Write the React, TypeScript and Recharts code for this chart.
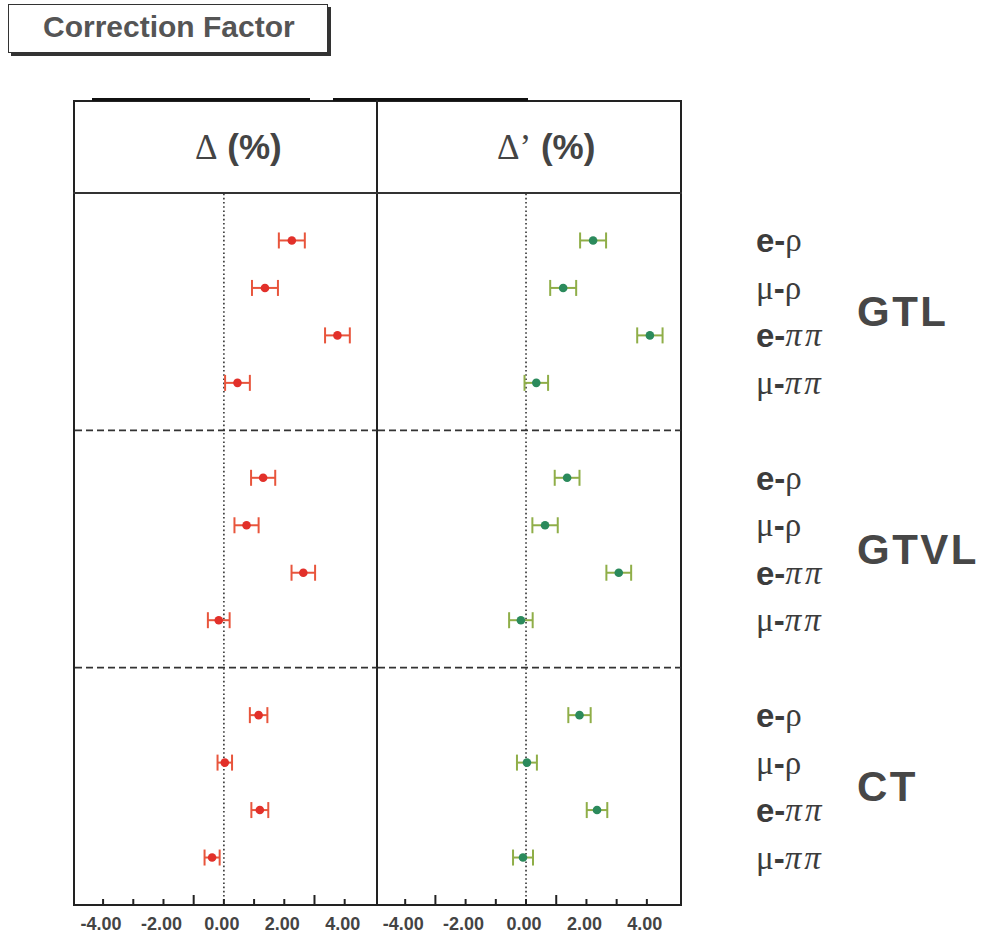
import React from 'react'
import { ScatterChart, Scatter, ErrorBar, XAxis, YAxis, ReferenceLine } from 'recharts'

const groups = ['GTL', 'GTVL', 'CT']
const channelLeptons = ['e', 'μ', 'e', 'μ']
const channelMesons = ['ρ', 'ρ', 'ππ', 'ππ']

// Δ (%) per row, groups in order GTL, GTVL, CT
const deltaValues = [2.25, 1.36, 3.76, 0.45, 1.3, 0.75, 2.63, -0.17, 1.15, 0.03, 1.19, -0.39]
const deltaErrors = [0.43, 0.43, 0.41, 0.41, 0.4, 0.4, 0.39, 0.36, 0.29, 0.24, 0.28, 0.25]
// Δ' (%)
const deltaPrimeValues = [2.22, 1.23, 4.1, 0.34, 1.36, 0.63, 3.07, -0.17, 1.77, 0.03, 2.35, -0.1]
const deltaPrimeErrors = [0.43, 0.43, 0.42, 0.39, 0.41, 0.42, 0.41, 0.39, 0.37, 0.33, 0.34, 0.33]

const xTicks = [-4, -3, -2, -1, 0, 1, 2, 3, 4]
const groupDividers = [5, 10]

const SANS = "'Liberation Sans', Arial, Helvetica, sans-serif"
const SERIF = "'Liberation Serif', 'Times New Roman', serif"

const PLOT_TOP = 193
const PLOT_H = 712
const AXIS_H = 40
const SLOTS = 15

const rows = groups.flatMap((group, gi) =>
  channelLeptons.map((lepton, ci) => ({
    group,
    lepton,
    meson: channelMesons[ci],
    slot: gi * 5 + ci + 1,
  }))
)

const deltaData = rows.map((r, i) => ({ ...r, value: deltaValues[i], err: deltaErrors[i] }))
const deltaPrimeData = rows.map((r, i) => ({ ...r, value: deltaPrimeValues[i], err: deltaPrimeErrors[i] }))

const slotY = (s: number) => PLOT_TOP + (s * PLOT_H) / SLOTS
const pxToSlots = (px: number) => (px * SLOTS) / PLOT_H

function AxisLabel(props: any) {
  const { x, payload } = props
  const v = payload.value
  if (v % 2 !== 0) return <g />
  return (
    <text
      x={x - 2}
      y={PLOT_H + 19}
      textAnchor='middle'
      dominantBaseline='central'
      fontFamily={SANS}
      fontWeight='bold'
      fontSize={18}
      fill='#444'
    >
      {v.toFixed(2)}
    </text>
  )
}

function Panel(props: {
  data: any[]
  domain: [number, number]
  width: number
  dot: string
  bar: string
  tall: number[]
}) {
  const { data, domain, width, dot, bar, tall } = props
  return (
    <ScatterChart width={width} height={PLOT_H + AXIS_H} margin={{ top: 0, right: 0, bottom: 0, left: 0 }}>
      <XAxis
        type='number'
        dataKey='value'
        domain={domain}
        ticks={xTicks}
        interval={0}
        allowDataOverflow
        axisLine={false}
        tickLine={false}
        height={AXIS_H}
        tick={AxisLabel}
      />
      <YAxis type='number' dataKey='slot' domain={[0, SLOTS]} reversed hide />
      <ReferenceLine x={0} stroke='#333' strokeWidth={1.6} strokeDasharray='1.6 2.6' />
      {groupDividers.map((d) => (
        <ReferenceLine key={d} y={d} stroke='#333' strokeWidth={1.6} strokeDasharray='7 4' />
      ))}
      {xTicks.map((t) => (
        <ReferenceLine
          key={'t' + t}
          segment={[
            { x: t, y: SLOTS },
            { x: t, y: SLOTS - pxToSlots(tall.includes(t) ? 10 : 6) },
          ]}
          stroke='#222'
          strokeWidth={2}
        />
      ))}
      <Scatter
        data={data}
        isAnimationActive={false}
        shape={(p: any) => <circle cx={p.cx} cy={p.cy} r={4.3} fill={dot} />}
      >
        <ErrorBar dataKey='err' direction='x' width={8} stroke={bar} strokeWidth={2} />
      </Scatter>
    </ScatterChart>
  )
}

function ChannelLabel({ lepton, meson, y }: { lepton: string; meson: string; y: number }) {
  return (
    <text x={756} y={y} dominantBaseline='central' fontSize={33} fill='#3c3c3c'>
      {lepton === 'e' ? (
        <tspan fontFamily={SANS} fontWeight='bold'>e</tspan>
      ) : (
        <tspan fontFamily={SERIF}>{lepton}</tspan>
      )}
      <tspan fontFamily={SANS} fontWeight='bold'>-</tspan>
      <tspan fontFamily={SERIF} fontStyle={meson === 'ππ' ? 'italic' : 'normal'} letterSpacing={meson === 'ππ' ? 3 : 0}>
        {meson}
      </tspan>
    </text>
  )
}

export default function App() {
  return (
    <div
      style={{
        position: 'absolute',
        left: 0,
        top: 0,
        width: 987,
        height: 934,
        background: '#fff',
        fontFamily: SANS,
      }}
    >
      {/* title box */}
      <div
        style={{
          position: 'absolute',
          left: 8,
          top: 4,
          width: 320,
          height: 49,
          boxSizing: 'border-box',
          border: '1.5px solid #333',
          boxShadow: '3px 3px 0 #333',
          background: '#fff',
        }}
      >
        <div
          style={{
            position: 'absolute',
            left: 34,
            top: 5,
            fontSize: 30,
            fontWeight: 'bold',
            color: '#555',
            whiteSpace: 'nowrap',
          }}
        >
          Correction Factor
        </div>
      </div>

      {/* frame */}
      <div
        style={{
          position: 'absolute',
          left: 73,
          top: 100,
          width: 609,
          height: 806,
          boxSizing: 'border-box',
          border: '2px solid #222',
        }}
      />
      <div style={{ position: 'absolute', left: 92, top: 98, width: 218, height: 3, background: '#111' }} />
      <div style={{ position: 'absolute', left: 333, top: 98, width: 195, height: 3, background: '#111' }} />
      <div style={{ position: 'absolute', left: 376, top: 100, width: 2, height: 806, background: '#222' }} />
      <div style={{ position: 'absolute', left: 73, top: 192, width: 609, height: 2, background: '#333' }} />

      {/* headers */}
      <div style={{ position: 'absolute', left: 195, top: 127, whiteSpace: 'nowrap', color: '#444', fontSize: 35 }}>
        <span style={{ fontFamily: SERIF }}>Δ</span>
        <span style={{ fontWeight: 'bold' }}> (%)</span>
      </div>
      <div style={{ position: 'absolute', left: 497, top: 127, whiteSpace: 'nowrap', color: '#444', fontSize: 35 }}>
        <span style={{ fontFamily: SERIF }}>Δ’</span>
        <span style={{ fontWeight: 'bold' }}> (%)</span>
      </div>

      <div style={{ position: 'absolute', left: 75, top: PLOT_TOP }}>
        <Panel data={deltaData} domain={[-4.93, 5.07]} width={302} dot='#e2302a' bar='#e8553c' tall={[-1, 3]} />
      </div>
      <div style={{ position: 'absolute', left: 378, top: PLOT_TOP }}>
        <Panel
          data={deltaPrimeData}
          domain={[-4.9, 5.13]}
          width={303}
          dot='#2b8a5c'
          bar='#8fae48'
          tall={[-3, 1]}
        />
      </div>

      {/* right-hand labels */}
      <svg width={987} height={934} style={{ position: 'absolute', left: 0, top: 0, pointerEvents: 'none' }}>
        {rows.map((r) => (
          <ChannelLabel key={r.slot} lepton={r.lepton} meson={r.meson} y={slotY(r.slot)} />
        ))}
        {groups.map((g, gi) => (
          <text
            key={g}
            x={857}
            y={slotY(gi * 5 + 2.5)}
            dominantBaseline='central'
            fontFamily={SANS}
            fontWeight='bold'
            fontSize={42}
            letterSpacing={2.5}
            fill='#474747'
          >
            {g}
          </text>
        ))}
      </svg>
    </div>
  )
}
